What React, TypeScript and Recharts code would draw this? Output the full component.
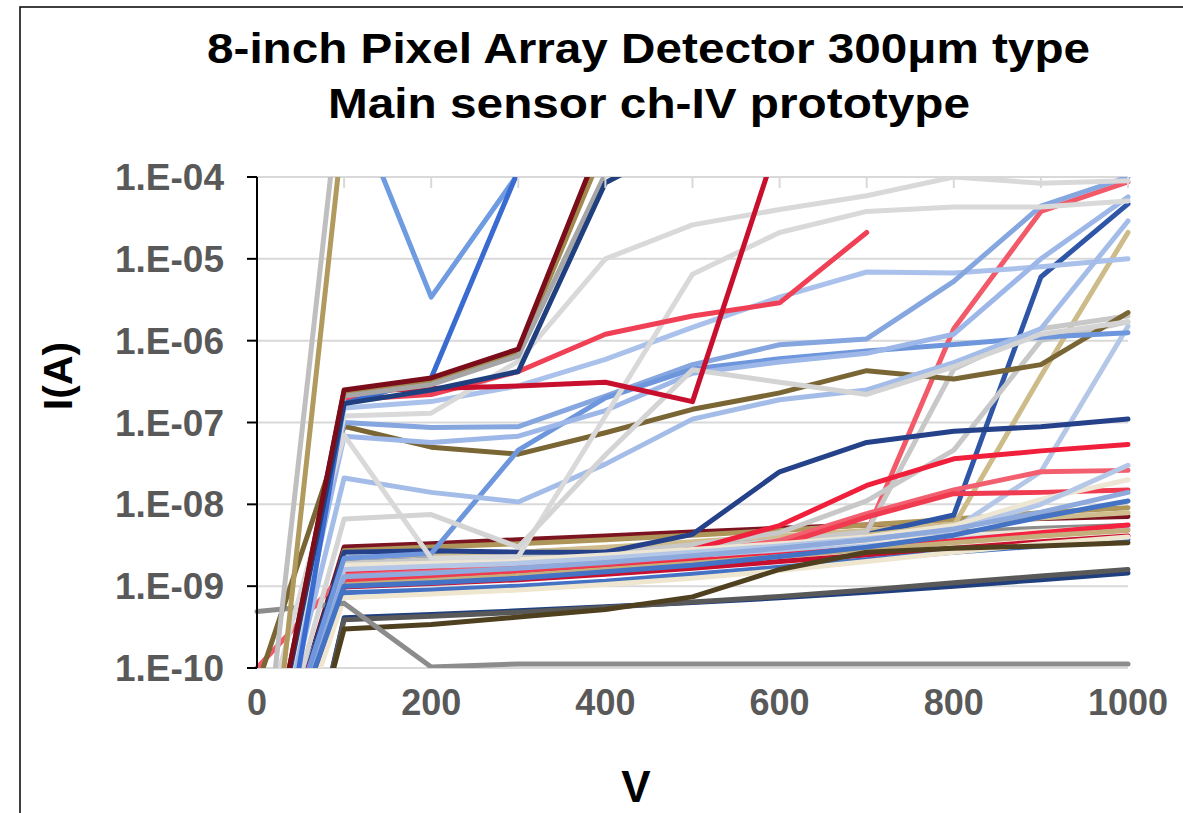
import React from 'react';
import { LineChart, Line, XAxis, YAxis, CartesianGrid } from 'recharts';

const FONT = '"Liberation Sans", Arial, Helvetica, sans-serif';

// Voltage categories (V)
const voltages = [0, 100, 200, 300, 400, 500, 600, 700, 800, 900, 1000];
const xTicks = [0, 200, 400, 600, 800, 1000];
const topTicks = [0, 100, 200, 300, 400, 500, 600, 700, 800, 900, 1000];
const yTicks = [1e-10, 1e-9, 1e-8, 1e-7, 1e-6, 1e-5, 1e-4];

// ---- normal bundle (upper) ----
const b1 = [1e-12, 3.0e-9, 3.3e-9, 3.7e-9, 4.1e-9, 4.6e-9, 5.1e-9, 5.6e-9, 6.2e-9, 6.7e-9, 7.1e-9];
const b2 = [3e-13, 2.7e-9, 3.0e-9, 3.3e-9, 3.7e-9, 4.2e-9, 4.8e-9, 5.6e-9, 6.6e-9, 7.9e-9, 9.1e-9];
const b3 = [2e-13, 2.2e-9, 2.4e-9, 2.6e-9, 2.9e-9, 3.3e-9, 3.7e-9, 4.1e-9, 4.6e-9, 5.1e-9, 5.5e-9];
const b4 = [5e-13, 2.0e-9, 2.3e-9, 2.6e-9, 3.0e-9, 3.5e-9, 4.1e-9, 4.8e-9, 5.8e-9, 6.8e-9, 7.9e-9];
const b5 = [1e-12, 1.7e-9, 1.85e-9, 2.0e-9, 2.3e-9, 2.6e-9, 3.0e-9, 3.5e-9, 4.1e-9, 4.7e-9, 5.3e-9];
const b6 = [2e-12, 1.3e-9, 1.45e-9, 1.6e-9, 1.9e-9, 2.2e-9, 2.6e-9, 3.1e-9, 3.7e-9, 4.4e-9, 5.0e-9];
const b7 = [3e-12, 1.25e-9, 1.35e-9, 1.5e-9, 1.75e-9, 2.05e-9, 2.4e-9, 2.9e-9, 3.6e-9, 4.5e-9, 5.6e-9];
const b8 = [1e-12, 1.1e-9, 1.2e-9, 1.35e-9, 1.6e-9, 1.9e-9, 2.3e-9, 2.8e-9, 3.4e-9, 4.1e-9, 4.8e-9];
const b9 = [1e-12, 9.8e-10, 1.08e-9, 1.2e-9, 1.4e-9, 1.65e-9, 2.0e-9, 2.4e-9, 2.9e-9, 3.5e-9, 4.1e-9];
const b10 = [2e-12, 8.3e-10, 9e-10, 1.0e-9, 1.15e-9, 1.4e-9, 1.7e-9, 2.1e-9, 2.6e-9, 3.1e-9, 3.7e-9];
const b11 = [5e-13, 7.2e-10, 8e-10, 9e-10, 1.05e-9, 1.25e-9, 1.55e-9, 2.0e-9, 2.6e-9, 3.3e-9, 4.0e-9];

// ---- lower bundle ----
const d1 = [1e-14, 4.1e-10, 4.5e-10, 5.0e-10, 5.6e-10, 6.3e-10, 7.2e-10, 8.4e-10, 1.0e-9, 1.2e-9, 1.45e-9];
const d2 = [1e-14, 3.9e-10, 4.3e-10, 4.8e-10, 5.5e-10, 6.4e-10, 7.5e-10, 9e-10, 1.1e-9, 1.33e-9, 1.6e-9];
const d3 = [3e-14, 3.0e-10, 3.4e-10, 4.2e-10, 5.2e-10, 7.4e-10, 1.6e-9, 2.6e-9, 2.9e-9, 3.1e-9, 3.4e-9];
const d4 = [4.9e-10, 6.2e-10, 1.03e-10, 1.12e-10, 1.12e-10, 1.12e-10, 1.12e-10, 1.12e-10, 1.12e-10, 1.12e-10, 1.12e-10];

// ---- rising from bundle at high voltage ----
const r1 = [1e-10, 1.4e-9, 1.5e-9, 1.7e-9, 2.0e-9, 2.4e-9, 3.0e-9, 4.5e-9, 1.4e-6, 3.8e-5, 8.7e-5];
const r2 = [2e-12, 1.9e-9, 2.1e-9, 2.3e-9, 2.6e-9, 3.0e-9, 3.5e-9, 4.3e-9, 7.4e-9, 6e-6, 4.7e-5];
const r3 = [3e-12, 1.5e-9, 1.6e-9, 1.8e-9, 2.1e-9, 2.5e-9, 3.0e-9, 3.7e-9, 5e-9, 2.5e-8, 1.5e-6];
const r4 = [1e-12, 1.6e-9, 1.8e-9, 2.0e-9, 2.3e-9, 2.8e-9, 3.4e-9, 4.2e-9, 5.5e-9, 3.7e-7, 2.1e-5];
const r5 = [1e-12, 1.9e-9, 2.1e-9, 2.3e-9, 2.6e-9, 3.0e-9, 3.6e-9, 4.6e-9, 4.5e-7, 1.4e-6, 2.0e-6];
const r6 = [1e-12, 1.8e-9, 2.0e-9, 2.2e-9, 2.5e-9, 3.2e-9, 4.5e-9, 1.1e-8, 4.6e-8, 1e-6, 1.7e-6];
const r7 = [1e-12, 2.6e-9, 2.7e-9, 2.6e-9, 2.6e-9, 4.3e-9, 2.5e-8, 5.7e-8, 7.8e-8, 8.9e-8, 1.1e-7];
const r8 = [2e-12, 1.5e-9, 1.65e-9, 1.85e-9, 2.2e-9, 2.8e-9, 5.5e-9, 1.7e-8, 3.6e-8, 4.5e-8, 5.4e-8];
const r9 = [1e-12, 1.35e-9, 1.5e-9, 1.7e-9, 2.0e-9, 2.5e-9, 3.6e-9, 7.7e-9, 1.5e-8, 2.5e-8, 2.6e-8];
const r10 = [1e-12, 1.2e-9, 1.35e-9, 1.55e-9, 1.85e-9, 2.3e-9, 3.2e-9, 7e-9, 1.35e-8, 1.4e-8, 1.5e-8];
const r11 = [1e-12, 1.8e-9, 1.9e-9, 2.1e-9, 2.4e-9, 2.8e-9, 3.3e-9, 4e-9, 5.5e-9, 1.15e-8, 2e-8];
const r12 = [1e-12, 1.6e-9, 1.75e-9, 1.9e-9, 2.2e-9, 2.6e-9, 3.1e-9, 3.8e-9, 4.8e-9, 1e-8, 3e-8];
const r13 = [1e-12, 1.3e-9, 1.45e-9, 1.65e-9, 1.95e-9, 2.35e-9, 2.9e-9, 3.7e-9, 5e-9, 8e-9, 1.4e-8];
const r14 = [1e-12, 1.0e-9, 1.1e-9, 1.25e-9, 1.5e-9, 1.8e-9, 2.3e-9, 3.0e-9, 4.2e-9, 7e-9, 1.1e-8];

// ---- middle-level channels ----
const m1 = [6e-11, 9e-8, 5e-8, 4.1e-8, 7.5e-8, 1.45e-7, 2.3e-7, 4.3e-7, 3.4e-7, 5.1e-7, 2.2e-6];
const m2 = [1e-12, 1.5e-7, 1.8e-7, 2.8e-7, 5.9e-7, 1.45e-6, 3.4e-6, 6.9e-6, 6.7e-6, 8e-6, 1e-5];
const m3 = [1e-12, 1e-7, 8.7e-8, 8.9e-8, 2.1e-7, 5.1e-7, 8.9e-7, 1.05e-6, 5.3e-6, 4.4e-5, 1e-4];
const m4 = [1e-12, 2.2e-9, 2.5e-9, 4.6e-8, 2e-7, 4.5e-7, 6e-7, 7.5e-7, 9e-7, 1.1e-6, 1.25e-6];
const m5 = [1e-12, 2.1e-8, 1.4e-8, 1.07e-8, 3.1e-8, 1.1e-7, 1.9e-7, 2.5e-7, 5.4e-7, 1.4e-6, 2.9e-5];
const m6 = [1e-12, 6.8e-8, 5.7e-8, 6.8e-8, 1.4e-7, 4e-7, 5.5e-7, 7e-7, 1.2e-6, 1e-5, 5.7e-5];
const m7 = [1e-11, 7e-8, 2.2e-9, 2.3e-9, 1.2e-7, 6.5e-6, 2.1e-5, 3.8e-5, 4.3e-5, 4.3e-5, 5.1e-5];
const m8 = [1e-12, 6.6e-9, 7.5e-9, 3e-9, 4e-8, 4.4e-7, 3.1e-7, 2.2e-7, 4.8e-7, 1.2e-6, 1.7e-6];
const m9 = [1e-12, 1.2e-7, 1.3e-7, 5.6e-7, 1e-5, 2.6e-5, 4e-5, 5.9e-5, 1e-4, 8.4e-5, 9e-5];
const m10 = [1e-12, 1.9e-7, 2.2e-7, 4.2e-7, 1.2e-6, 2e-6, 2.9e-6, 2.1e-5, null, null, null];
const m11 = [1e-12, 2.4e-7, 2.6e-7, 2.8e-7, 3.1e-7, 1.8e-7, 3.1e-4, 1e-3, 1e-3, 1e-3, 1e-3];

// ---- early breakdown channels ----
const h1 = [1e-13, 5e-4, 1e-3, 1e-3, 1e-3, 1e-3, 1e-3, 1e-3, 1e-3, 1e-3, 1e-3];
const h2 = [1e-12, 3e-3, 1e-2, 1e-2, 1e-2, 1e-2, 1e-2, 1e-2, 1e-2, 1e-2, 1e-2];
const h3 = [null, 1.5e-3, 3.4e-6, 1.1e-4, 1e-3, 1e-3, 1e-3, 1e-3, 1e-3, 1e-3, 1e-3];
const h4 = [1e-13, 1.7e-7, 3.5e-7, 1.2e-4, 1e-3, 1e-3, 1e-3, 1e-3, 1e-3, 1e-3, 1e-3];
const h5 = [1e-12, 2.5e-7, 3.5e-7, 7.9e-7, 3.6e-4, 1e-3, 1e-3, 1e-3, 1e-3, 1e-3, 1e-3];
const h6 = [1e-12, 2.2e-7, 3.1e-7, 7e-7, 2.5e-4, 1e-3, 1e-3, 1e-3, 1e-3, 1e-3, 1e-3];
const h7 = [1e-12, 2.1e-7, 2.9e-7, 6.5e-7, 1.1e-4, 1e-3, 1e-3, 1e-3, 1e-3, 1e-3, 1e-3];
const h8 = [1e-12, 1.7e-7, 2.5e-7, 4.2e-7, 8.5e-5, 3e-4, 1e-3, 1e-3, 1e-3, 1e-3, 1e-3];

// series order (drawing order) with colours
const seriesList: { key: string; values: (number | null)[]; color: string }[] = [
  { key: 'b1', values: b1, color: '#7B1321' },
  { key: 'b2', values: b2, color: '#AE965A' },
  { key: 'b3', values: b3, color: '#8C8C8C' },
  { key: 'b4', values: b4, color: '#CFBD8E' },
  { key: 'b5', values: b5, color: '#EEE7D8' },
  { key: 'b6', values: b6, color: '#B4C7E7' },
  { key: 'b7', values: b7, color: '#F5233F' },
  { key: 'b8', values: b8, color: '#C4AF7C' },
  { key: 'b9', values: b9, color: '#C8102E' },
  { key: 'b10', values: b10, color: '#4472C4' },
  { key: 'b11', values: b11, color: '#EFE6CF' },
  { key: 'd1', values: d1, color: '#203F7E' },
  { key: 'd2', values: d2, color: '#595959' },
  { key: 'd3', values: d3, color: '#4F4020' },
  { key: 'd4', values: d4, color: '#8C8C8C' },
  { key: 'r1', values: r1, color: '#F25A6A' },
  { key: 'r2', values: r2, color: '#2E55A6' },
  { key: 'r3', values: r3, color: '#B4C7E7' },
  { key: 'r4', values: r4, color: '#CDBB8A' },
  { key: 'r5', values: r5, color: '#C8C8C8' },
  { key: 'r6', values: r6, color: '#C8C8C8' },
  { key: 'r7', values: r7, color: '#24418A' },
  { key: 'r8', values: r8, color: '#F0203C' },
  { key: 'r9', values: r9, color: '#F26070' },
  { key: 'r10', values: r10, color: '#F03A50' },
  { key: 'r11', values: r11, color: '#EEE6D4' },
  { key: 'r12', values: r12, color: '#B4C7E7' },
  { key: 'r13', values: r13, color: '#8EA9DB' },
  { key: 'r14', values: r14, color: '#4472C4' },
  { key: 'm1', values: m1, color: '#7A6634' },
  { key: 'm2', values: m2, color: '#A9C1EB' },
  { key: 'm3', values: m3, color: '#86A6E0' },
  { key: 'm4', values: m4, color: '#6E96DC' },
  { key: 'm5', values: m5, color: '#A4BDE8' },
  { key: 'm6', values: m6, color: '#9DB7E8' },
  { key: 'm7', values: m7, color: '#D9D9D9' },
  { key: 'm8', values: m8, color: '#D4D4D4' },
  { key: 'm9', values: m9, color: '#D9D9D9' },
  { key: 'm10', values: m10, color: '#F04055' },
  { key: 'm11', values: m11, color: '#C8102E' },
  { key: 'h2', values: h2, color: '#BFBFBF' },
  { key: 'h1', values: h1, color: '#B09A5E' },
  { key: 'h3', values: h3, color: '#6F9BE0' },
  { key: 'h4', values: h4, color: '#3A6BD0' },
  { key: 'h6', values: h6, color: '#A08A50' },
  { key: 'h7', values: h7, color: '#A6A6A6' },
  { key: 'h8', values: h8, color: '#1F3F7F' },
  { key: 'h5', values: h5, color: '#7B0C1A' },
];

const data = voltages.map((v, i) => {
  const row: Record<string, number | null> = { V: v };
  seriesList.forEach((s) => {
    row[s.key] = s.values[i];
  });
  return row;
});

const fmtY = (v: number) => {
  const e = Math.round(Math.log10(v));
  return `1.E${e < 0 ? '-' : '+'}${String(Math.abs(e)).padStart(2, '0')}`;
};

export default function App() {
  return (
    <div style={{ position: 'absolute', left: 0, top: 0, width: 1183, height: 813, background: '#fff' }}>
      <LineChart
        width={1183}
        height={813}
        data={data}
        margin={{ top: 177, right: 55, bottom: 85, left: 117 }}
      >
        <CartesianGrid vertical={false} stroke="#d9d9d9" strokeWidth={2} />
        <XAxis
          dataKey="V"
          type="number"
          domain={[0, 1000]}
          ticks={xTicks}
          interval={0}
          axisLine={false}
          tickLine={false}
          tickSize={0}
          tickMargin={21}
          height={60}
          tick={{ fill: '#595959', fontSize: 36, fontWeight: 'bold', fontFamily: FONT }}
        />
        <XAxis
          xAxisId="top"
          orientation="top"
          dataKey="V"
          type="number"
          domain={[0, 1000]}
          ticks={topTicks}
          interval={0}
          mirror
          axisLine={false}
          tickSize={11}
          tickLine={{ stroke: '#d9d9d9', strokeWidth: 2 }}
          tickFormatter={() => ''}
          height={1}
        />
        <YAxis
          type="number"
          scale="log"
          domain={[1e-10, 1e-4]}
          allowDataOverflow
          ticks={yTicks}
          interval={0}
          tickFormatter={fmtY}
          width={140}
          tickSize={10}
          tickMargin={23}
          axisLine={{ stroke: '#000', strokeWidth: 2 }}
          tickLine={{ stroke: '#000', strokeWidth: 2 }}
          tick={{ fill: '#595959', fontSize: 37, fontWeight: 'bold', fontFamily: FONT }}
        />
        {seriesList.map((s) => (
          <Line
            key={s.key}
            type="linear"
            dataKey={s.key}
            stroke={s.color}
            strokeWidth={5}
            strokeLinejoin="round"
            strokeLinecap="round"
            dot={false}
            activeDot={false}
            connectNulls={false}
            isAnimationActive={false}
          />
        ))}
      </LineChart>
      <svg
        width={1183}
        height={813}
        style={{ position: 'absolute', left: 0, top: 0, pointerEvents: 'none' }}
      >
        <rect x={20} y={7} width={2000} height={2000} fill="none" stroke="#000" strokeWidth={1.5} />
        <text
          x={207}
          y={63}
          fontFamily={FONT}
          fontWeight="bold"
          fontSize={43}
          fill="#000"
          textLength={883}
          lengthAdjust="spacingAndGlyphs"
        >
          8-inch Pixel Array Detector 300μm type
        </text>
        <text
          x={328}
          y={118}
          fontFamily={FONT}
          fontWeight="bold"
          fontSize={43}
          fill="#000"
          textLength={642}
          lengthAdjust="spacingAndGlyphs"
        >
          Main sensor ch-IV prototype
        </text>
        <text
          x={72}
          y={376}
          transform="rotate(-90 72 376)"
          textAnchor="middle"
          fontFamily={FONT}
          fontWeight="bold"
          fontSize={41}
          fill="#000"
        >
          I(A)
        </text>
        <text x={636} y={802} textAnchor="middle" fontFamily={FONT} fontWeight="bold" fontSize={44} fill="#000">
          V
        </text>
      </svg>
    </div>
  );
}
